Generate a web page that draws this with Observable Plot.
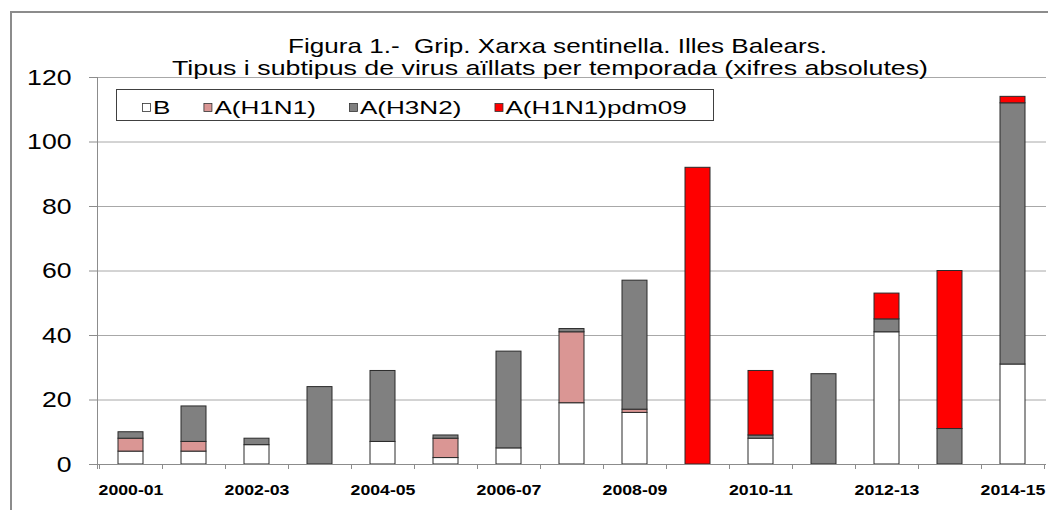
<!DOCTYPE html>
<html>
<head>
<meta charset="utf-8">
<script src="https://cdn.jsdelivr.net/npm/d3@7"></script>
<script src="https://cdn.jsdelivr.net/npm/@observablehq/plot@0.6"></script>
<style>
  html, body { margin: 0; padding: 0; background: #fff; }
  #chart { position: relative; width: 1048px; height: 510px; overflow: hidden; }
</style>
</head>
<body>
<div id="chart"></div>
<script>
// ---- data ----
const seasons = ["2000-01","2001-02","2002-03","2003-04","2004-05","2005-06","2006-07","2007-08",
                 "2008-09","2009-10","2010-11","2011-12","2012-13","2013-14","2014-15"];
const tickLabels = ["2000-01","2002-03","2004-05","2006-07","2008-09","2010-11","2012-13","2014-15"];
const types = ["B", "A(H1N1)", "A(H3N2)", "A(H1N1)pdm09"];
const colors = ["#ffffff", "#da9694", "#808080", "#ff0000"];
const valuesB     = [4, 4, 6, 0, 7, 2, 5, 19, 16, 0, 8, 0, 41, 0, 31];
const valuesH1N1  = [4, 3, 0, 0, 0, 6, 0, 22, 1, 0, 0, 0, 0, 0, 0];
const valuesH3N2  = [2, 11, 2, 24, 22, 1, 30, 1, 40, 0, 1, 28, 4, 11, 81];
const valuesPdm09 = [0, 0, 0, 0, 0, 0, 0, 0, 0, 92, 20, 0, 8, 49, 2];
const yTicks = [0, 20, 40, 60, 80, 100, 120];
const titleLines = ["Figura 1.-  Grip. Xarxa sentinella. Illes Balears.",
                    "Tipus i subtipus de virus aïllats per temporada (xifres absolutes)"];

// ---- table ----
const series = [valuesB, valuesH1N1, valuesH3N2, valuesPdm09];
const table = [];
seasons.forEach((s, i) => {
  series.forEach((arr, k) => {
    if (arr[i] > 0) table.push({season: s, type: types[k], value: arr[i]});
  });
});

const FONT = "'Liberation Sans', Arial, sans-serif";

const plot = Plot.plot({
  width: 1048,
  height: 510,
  marginLeft: 97,
  marginRight: 2,
  marginTop: 77,
  marginBottom: 46,
  style: {fontFamily: FONT, background: "transparent", overflow: "visible", color: "#000"},
  x: {domain: seasons, paddingInner: 0.6, paddingOuter: 0.3, axis: null},
  y: {domain: [0, 120], axis: null},
  color: {domain: types, range: colors},
  marks: [
    Plot.ruleY(yTicks.filter(d => d > 0), {stroke: "#a8a8a8", strokeWidth: 1}),
    Plot.barY(table, {x: "season", y: "value", fill: "type", order: types,
                      stroke: "#2a2a2a", strokeWidth: 1}),
    Plot.ruleY([0], {stroke: "#8c8c8c", strokeWidth: 1}),
    Plot.axisY({ticks: yTicks, tickSize: 8, tickPadding: 18, fontSize: 22,
                stroke: "#8c8c8c", fill: "#000", label: null}),
    Plot.axisX({ticks: tickLabels, tickSize: 0, tickPadding: 20, fontSize: 15,
                fontWeight: "bold", fill: "#000", label: null})
  ]
});

document.getElementById("chart").appendChild(plot);

const svg = d3.select(plot);
const xs = plot.scale("x");
const ys = plot.scale("y");

// outer chart frame (behind everything)
svg.insert("rect", ":first-child")
  .attr("x", 11).attr("y", 12).attr("width", 1100).attr("height", 600)
  .attr("fill", "#fff").attr("stroke", "#8c8c8c").attr("stroke-width", 2);

// y axis line
const x0 = xs.range[0];
svg.append("line")
  .attr("x1", x0 + 0.5).attr("x2", x0 + 0.5)
  .attr("y1", ys.apply(120)).attr("y2", ys.apply(0) + 5)
  .attr("stroke", "#8c8c8c");

// x axis boundary ticks
const step = xs.step, bw = xs.bandwidth;
const bounds = seasons.map(s => xs.apply(s) - (step - bw) / 2);
bounds.push(xs.apply(seasons[seasons.length - 1]) + bw + (step - bw) / 2);
svg.append("g").selectAll("line").data(bounds).join("line")
  .attr("x1", d => Math.round(d) + 0.5).attr("x2", d => Math.round(d) + 0.5)
  .attr("y1", ys.apply(0)).attr("y2", ys.apply(0) + 5)
  .attr("stroke", "#8c8c8c");

// horizontal stretch of text (the reference font is wide)
function stretch(el, s) {
  const bb = el.getBBox();
  const anchor = getComputedStyle(el).textAnchor;
  const ax = anchor === "middle" ? bb.x + bb.width / 2 : anchor === "end" ? bb.x + bb.width : bb.x;
  const t = el.getAttribute("transform") || "";
  el.setAttribute("transform", `${t} translate(${ax},0) scale(${s},1) translate(${-ax},0)`);
}
svg.selectAll('g[aria-label="y-axis tick label"] text').each(function() { stretch(this, 1.21); });
svg.selectAll('g[aria-label="x-axis tick label"] text').each(function() { stretch(this, 1.18); });

// title
const titleX = [288, 172], titleY = [53, 75], titleW = [539, 756];
titleLines.forEach((line, i) => {
  svg.append("text")
    .attr("x", titleX[i]).attr("y", titleY[i])
    .attr("text-anchor", "start")
    .attr("font-family", FONT).attr("font-size", 21).attr("fill", "#000")
    .attr("textLength", titleW[i]).attr("lengthAdjust", "spacingAndGlyphs")
    .style("white-space", "pre")
    .text(line);
});

// legend
const lg = svg.append("g").attr("font-family", FONT).attr("font-size", 18).attr("text-anchor", "start");
lg.append("rect").attr("x", 116.5).attr("y", 89.5).attr("width", 597).attr("height", 31)
  .attr("fill", "#fff").attr("stroke", "#404040").attr("stroke-width", 1);
let lx = 142;
types.forEach((t, k) => {
  lg.append("rect").attr("x", lx + 0.5).attr("y", 103.5).attr("width", 8).attr("height", 8)
    .attr("fill", colors[k]).attr("stroke", "#333").attr("stroke-width", 0.8);
  const txt = lg.append("text").attr("x", lx + 11).attr("y", 114.3)
    .attr("text-anchor", "start").attr("fill", "#000").text(t);
  const w = txt.node().getComputedTextLength();
  stretch(txt.node(), 1.45);
  lx = lx + 11 + w * 1.45 + 33;
});
</script>
</body>
</html>
